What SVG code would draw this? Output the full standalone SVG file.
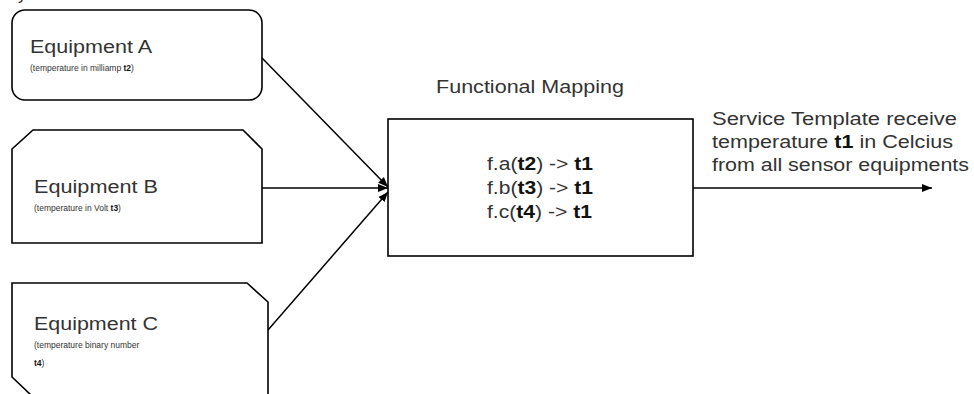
<svg xmlns="http://www.w3.org/2000/svg" width="974" height="394" viewBox="0 0 974 394">
<style>
.shape{fill:#fff;stroke:#000;stroke-width:1.6}
.t{font-family:"Liberation Sans",Arial,sans-serif;fill:#333}
.title{font-size:17.5px}
.sub{font-size:8.5px}
.b{font-weight:bold;fill:#111}
.conn{stroke:#000;stroke-width:1.5;fill:none}
</style>
<defs>
<marker id="ah" viewBox="0 0 10 10" refX="10" refY="5" markerWidth="10" markerHeight="10" markerUnits="userSpaceOnUse" orient="auto">
<path d="M0,1 L10,5 L0,9 Z" fill="#000"/>
</marker>
</defs>
<text class="t title" x="18" y="-1">y</text>
<g id="equipA">
<rect class="shape" x="12" y="10" width="250" height="90" rx="13" ry="13"/>
<text class="t title" x="30" y="53" textLength="122" lengthAdjust="spacingAndGlyphs">Equipment A</text>
<text class="t sub" x="30" y="71">(temperature in milliamp <tspan class="b">t2</tspan>)</text>
</g>
<g id="equipB">
<path class="shape" d="M12,149 L33,130 L243,130 L262,149 L262,243 L12,243 Z"/>
<text class="t title" x="34" y="193" textLength="124" lengthAdjust="spacingAndGlyphs">Equipment B</text>
<text class="t sub" x="34" y="211">(temperature in Volt <tspan class="b">t3</tspan>)</text>
</g>
<g id="equipC">
<path class="shape" d="M32,396 L12,377 L12,283 L247,283 L268,302 L268,396"/>
<text class="t title" x="34" y="330" textLength="124" lengthAdjust="spacingAndGlyphs">Equipment C</text>
<text class="t sub" x="34" y="348">(temperature binary number</text>
<text class="t sub" x="34" y="366"><tspan class="b">t4</tspan>)</text>
</g>
<g id="mapping">
<text class="t title" x="436" y="93" textLength="188" lengthAdjust="spacingAndGlyphs">Functional Mapping</text>
<rect class="shape" x="388" y="119" width="305" height="137"/>
<text class="t title" x="487" y="170" textLength="106" lengthAdjust="spacingAndGlyphs">f.a(<tspan class="b">t2</tspan>) -&gt; <tspan class="b">t1</tspan></text>
<text class="t title" x="487" y="194" textLength="106" lengthAdjust="spacingAndGlyphs">f.b(<tspan class="b">t3</tspan>) -&gt; <tspan class="b">t1</tspan></text>
<text class="t title" x="487" y="218" textLength="105" lengthAdjust="spacingAndGlyphs">f.c(<tspan class="b">t4</tspan>) -&gt; <tspan class="b">t1</tspan></text>
</g>
<g id="service">
<text class="t title" x="712" y="125" textLength="245" lengthAdjust="spacingAndGlyphs">Service Template receive</text>
<text class="t title" x="712" y="148" textLength="241" lengthAdjust="spacingAndGlyphs">temperature <tspan class="b">t1</tspan> in Celcius</text>
<text class="t title" x="712" y="171" textLength="257" lengthAdjust="spacingAndGlyphs">from all sensor equipments</text>
</g>
<g id="connectors">
<line class="conn" x1="262" y1="58" x2="388" y2="187" marker-end="url(#ah)"/>
<line class="conn" x1="262" y1="188" x2="388" y2="188" marker-end="url(#ah)"/>
<line class="conn" x1="268" y1="330" x2="388" y2="192" marker-end="url(#ah)"/>
<line class="conn" x1="693" y1="188" x2="932" y2="188" marker-end="url(#ah)"/>
</g>
</svg>
